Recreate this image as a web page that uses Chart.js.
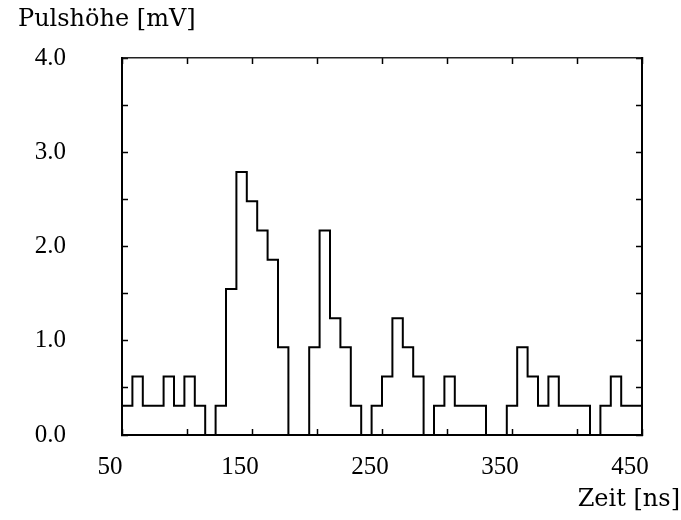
<!DOCTYPE html>
<html>
<head>
<meta charset="utf-8">
<script src="https://cdn.jsdelivr.net/npm/chart.js@4/dist/chart.umd.min.js"></script>
<style>
  html, body { margin: 0; padding: 0; background: #fff; }
  #wrap { width: 681px; height: 520px; position: relative; }
</style>
</head>
<body>
<div id="wrap"><canvas id="c"></canvas></div>
<script>
// Bin start times [ns] (8 ns bins)
const timeBins = [50, 58, 66, 74, 82, 90, 98, 106, 114, 122,
                  130, 138, 146, 154, 162, 170, 178, 186, 194, 202,
                  210, 218, 226, 234, 242, 250, 258, 266, 274, 282,
                  290, 298, 306, 314, 322, 330, 338, 346, 354, 362,
                  370, 378, 386, 394, 402, 410, 418, 426, 434, 442];
const timeEnd = 450;
// Pulse height per bin [mV]
const pulseHeights = [0.31, 0.62, 0.31, 0.31, 0.62, 0.31, 0.62, 0.31, 0, 0.31,
                      1.55, 2.79, 2.48, 2.17, 1.86, 0.93, 0, 0, 0.93, 2.17,
                      1.24, 0.93, 0.31, 0, 0.31, 0.62, 1.24, 0.93, 0.62, 0,
                      0.31, 0.62, 0.31, 0.31, 0.31, 0, 0, 0.31, 0.93, 0.62,
                      0.31, 0.62, 0.31, 0.31, 0.31, 0, 0.31, 0.62, 0.31, 0.31];
const xTickLabels = [50, 150, 250, 350, 450];
const yTickLabels = [0, 1, 2, 3, 4];
const yTitle = 'Pulshöhe [mV]';
const xTitle = 'Zeit [ns]';

const points = timeBins.map((t, i) => ({ x: t, y: pulseHeights[i] }));
points.push({ x: timeEnd, y: pulseHeights[pulseHeights.length - 1] });

const tickFont = { family: 'Liberation Serif', size: 25 };
const titleFont = { family: 'DejaVu Serif', size: 24, weight: 'normal' };

function gridOpts() {
  return { drawOnChartArea: false, drawTicks: true, tickLength: -6, color: '#000', tickColor: '#000', tickWidth: 1.5 };
}
function fixSize(prop, val) {
  return s => {
    s[prop] = val;
    s.paddingTop = 0; s.paddingBottom = 0; s.paddingLeft = 0; s.paddingRight = 0;
  };
}

const bgPlugin = {
  id: 'bg',
  beforeDraw(chart) {
    const ctx = chart.ctx;
    ctx.save();
    ctx.fillStyle = '#fff';
    ctx.fillRect(0, 0, chart.width, chart.height);
    ctx.restore();
  }
};

new Chart(document.getElementById('c'), {
  type: 'line',
  data: {
    datasets: [{
      data: points,
      stepped: true,
      borderColor: '#000',
      borderWidth: 2,
      pointRadius: 0,
      fill: false,
      tension: 0
    }]
  },
  options: {
    responsive: true,
    maintainAspectRatio: false,
    animation: false,
    layout: { padding: { left: 18, right: 1, top: 0, bottom: 0 } },
    plugins: {
      legend: { display: false },
      tooltip: { enabled: false },
      title: {
        display: true, text: yTitle, align: 'start', position: 'top',
        color: '#000', font: titleFont, padding: { top: 5, bottom: 4.2 }
      },
      subtitle: {
        display: true, text: xTitle, align: 'end', position: 'bottom',
        color: '#000', font: titleFont, padding: { top: 0, bottom: 6 }
      }
    },
    scales: {
      x: {
        type: 'linear', position: 'bottom', min: 50, max: 450,
        afterFit: fixSize('height', 50.2),
        ticks: {
          stepSize: 50, autoSkip: false, maxRotation: 0, color: '#000', font: tickFont,
          padding: 23, labelOffset: -12,
          callback: v => xTickLabels.includes(v) ? String(v) : ''
        },
        grid: gridOpts(),
        border: { display: true, color: '#000', width: 2 }
      },
      x2: {
        type: 'linear', position: 'top', min: 50, max: 450,
        afterFit: fixSize('height', 20),
        ticks: { stepSize: 50, display: false },
        grid: gridOpts(),
        border: { display: true, color: '#222', width: 1.5 }
      },
      y: {
        type: 'linear', position: 'left', min: 0, max: 4,
        afterFit: fixSize('width', 104),
        ticks: {
          stepSize: 0.5, autoSkip: false, color: '#000', font: tickFont, padding: 62,
          callback: v => yTickLabels.includes(v) ? v.toFixed(1) : ''
        },
        grid: gridOpts(),
        border: { display: true, color: '#000', width: 2 }
      },
      y2: {
        type: 'linear', position: 'right', min: 0, max: 4,
        afterFit: fixSize('width', 38),
        ticks: { stepSize: 0.5, display: false },
        grid: gridOpts(),
        border: { display: true, color: '#000', width: 2 }
      }
    }
  },
  plugins: [bgPlugin]
});
</script>
</body>
</html>
